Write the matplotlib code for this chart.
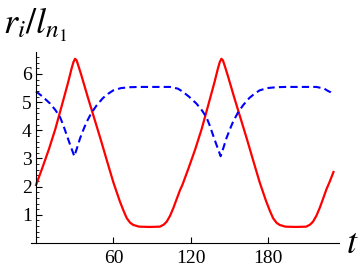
import matplotlib
matplotlib.use("Agg")
import matplotlib.pyplot as plt
from matplotlib.ticker import MultipleLocator

plt.rcParams["mathtext.fontset"] = "stix"
plt.rcParams["font.family"] = "Liberation Serif"

# red solid curve
t_red = [0, 5, 10, 15, 20, 25, 27.5, 29, 30.3, 31.5, 33, 35, 40, 45, 50, 55, 60,
         65, 68, 70.4, 73, 75.5, 80, 88, 96, 99, 101.4, 104, 106.5, 109, 111.7,
         113.5, 118.5, 123.5, 128.5, 133.5, 138.5, 141, 142.5, 143.8, 145, 146.5,
         148.5, 153.5, 158.5, 163.5, 168.5, 173.5, 178.5, 181.5, 183.9, 186.5,
         189, 193.5, 201.5, 209.5, 212.5, 214.9, 217.5, 220, 222.5, 225.2, 228, 230.7]
r_red = [2.06, 2.68, 3.33, 4.05, 4.88, 5.72, 6.18, 6.42, 6.54, 6.48, 6.27, 5.98, 5.2,
         4.45, 3.7, 2.92, 2.15, 1.48, 1.13, 0.88, 0.72, 0.64, 0.58, 0.57, 0.58,
         0.65, 0.76, 0.97, 1.24, 1.55, 1.88,
         2.06, 2.68, 3.33, 4.05, 4.88, 5.72, 6.18, 6.42, 6.54, 6.48, 6.27, 5.98, 5.2,
         4.45, 3.7, 2.92, 2.15, 1.48, 1.13, 0.88, 0.72, 0.64, 0.58, 0.57, 0.58,
         0.65, 0.76, 0.97, 1.24, 1.55, 1.9, 2.2, 2.52]

# blue dashed curve
t_blue = [0, 5, 10.9, 15, 18.6, 21, 23.8, 26.5, 29.7, 32, 34.1, 37, 39.3, 43, 47.1, 52,
          56, 60, 66, 73, 80, 104, 110, 113.5, 118.5, 124.4, 128.5, 132.1, 134.5, 137.3,
          140, 143.2, 145.5, 147.6, 150.5, 152.8, 156.5, 160.6, 165.5, 169.5, 173.5,
          179.5, 186.5, 193.5, 217.5, 223.5, 226, 228.5, 230.7]
r_blue = [5.38, 5.2, 4.95, 4.72, 4.47, 4.2, 3.83, 3.48, 3.08, 3.4, 3.71, 4.05, 4.3, 4.62,
          4.89, 5.15, 5.3, 5.42, 5.5, 5.53, 5.54, 5.54, 5.48, 5.38, 5.2, 4.95, 4.72, 4.47,
          4.2, 3.83, 3.48, 3.08, 3.4, 3.71, 4.05, 4.3, 4.62, 4.89, 5.15, 5.3, 5.42, 5.5,
          5.53, 5.54, 5.54, 5.48, 5.41, 5.35, 5.26]

x_ticks = [60, 120, 180]
y_ticks = [1, 2, 3, 4, 5, 6]

fig = plt.figure(figsize=(3.6, 2.72), dpi=100)
ax = fig.add_axes([31 / 360, 29 / 272, 308 / 360, 191 / 272])

ax.plot(t_red, r_red, color="#ff0000", linewidth=1.6)
ax.plot(t_blue, r_blue, color="#0000ff", linewidth=1.5, dashes=(3.5, 2))

ax.set_xlim(-3.9, 235)
ax.set_ylim(0, 6.78)
ax.spines["top"].set_visible(False)
ax.spines["right"].set_visible(False)
ax.spines["left"].set_position(("data", 0))
for s in ("left", "bottom"):
    ax.spines[s].set_linewidth(0.8)

ax.set_xticks(x_ticks)
ax.set_yticks(y_ticks)
ax.yaxis.set_minor_locator(MultipleLocator(0.2))
ax.tick_params(axis="both", which="major", direction="in", length=4, width=0.8,
               labelsize=14, pad=3)
ax.tick_params(axis="x", pad=5)
ax.tick_params(axis="y", which="minor", direction="in", length=2.2, width=0.6)

fig.text(0.008, 0.978, r"$r_i/l_{n_1}$", fontsize=26, va="top", ha="left")
fig.text(0.96, 0.07, r"$t$", fontsize=26, va="baseline", ha="left")

fig.savefig("out.png", dpi=100)
